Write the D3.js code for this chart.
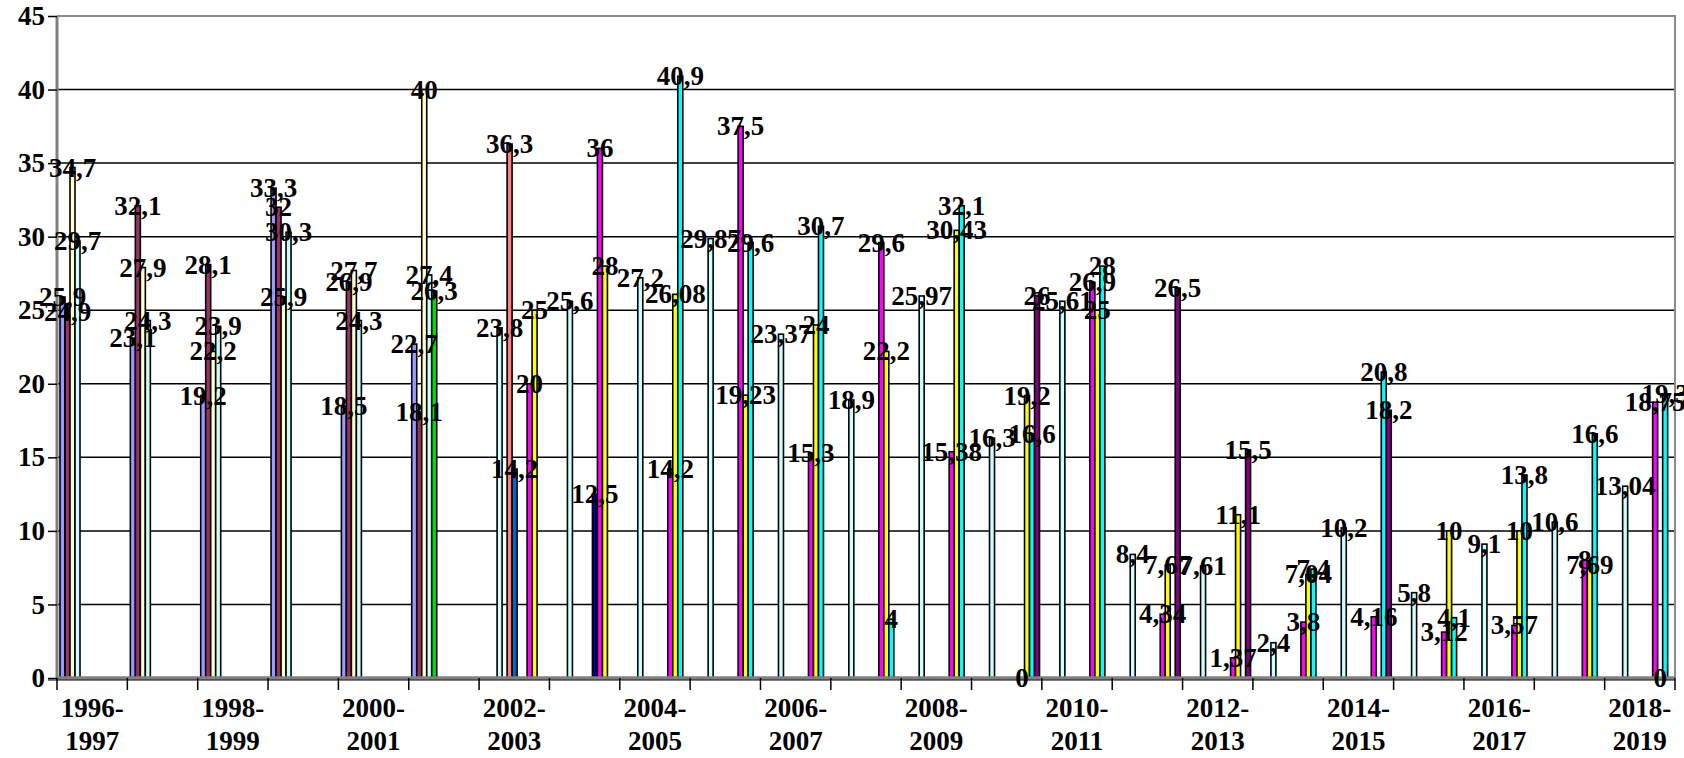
<!DOCTYPE html>
<html>
<head>
<meta charset="utf-8">
<script src="https://cdn.jsdelivr.net/npm/d3@7"></script>
<style>
  body { margin: 0; background: #fff; }
  svg text { font-family: "Liberation Serif", "Times New Roman", serif; font-weight: bold; }
</style>
</head>
<body>
<svg id="chart" width="1684" height="758"></svg>
<script>
var N = null;

var categories = ["1996-1997","1997-1998","1998-1999","1999-2000","2000-2001","2001-2002",
  "2002-2003","2003-2004","2004-2005","2005-2006","2006-2007","2007-2008","2008-2009",
  "2009-2010","2010-2011","2011-2012","2012-2013","2013-2014","2014-2015","2015-2016",
  "2016-2017","2017-2018","2018-2019"];

var yTicks = [0, 5, 10, 15, 20, 25, 30, 35, 40, 45];

// one array per series, null where the series has no bar
var lavender    = [25.9,23.1,19.2,33.3,18.5,22.7,N,N,N,N,N,N,N,N,N,N,N,N,N,N,N,N,N];
var maroon      = [24.9,32.1,28.1,32,26.9,18.1,N,N,N,N,N,N,N,N,N,N,N,N,N,N,N,N,N];
var lightYellow = [34.7,27.9,22.2,25.9,27.7,40,N,N,N,N,N,N,N,N,N,N,N,N,N,N,N,N,N];
var lightCyan   = [29.7,24.3,23.9,30.3,24.3,27.4,23.8,25.6,27.2,29.87,23.37,18.9,25.97,16.3,25.61,8.4,7.61,2.4,10.2,5.8,9.1,10.6,13.04];
var green       = [N,N,N,N,N,26.3,N,N,N,N,N,N,N,N,N,N,N,N,N,N,N,N,N];
var salmon      = [N,N,N,N,N,N,36.3,N,N,N,N,N,N,N,N,N,N,N,N,N,N,N,N];
var blue        = [N,N,N,N,N,N,14.2,N,N,N,N,N,N,N,N,N,N,N,N,N,N,N,N];
var navy        = [N,N,N,N,N,N,N,12.5,N,N,N,N,N,N,N,N,N,N,N,N,N,N,N];
var magenta     = [N,N,N,N,N,N,20,36,14.2,37.5,15.3,29.6,15.38,0,26.9,4.34,1.37,3.8,4.16,3.12,3.57,8,18.75];
var yellow      = [N,N,N,N,N,N,25,28,26.08,19.23,24,22.2,30.43,19.2,25,7.67,11.1,7.04,N,10,10,7.69,0];
var cyan        = [N,N,N,N,N,N,N,N,40.9,29.6,30.7,4,32.1,16.6,28,N,N,7.4,20.8,4.1,13.8,16.6,19.3];
var purple      = [N,N,N,N,N,N,N,N,N,N,N,N,N,26,N,26.5,15.5,N,18.2,N,N,N,N];

// slot = position of the series inside a category group
var series = [
  { values: lavender,    slot: 0,  color: "#9999FF" },
  { values: maroon,      slot: 1,  color: "#993366" },
  { values: lightYellow, slot: 2,  color: "#FFFFCC" },
  { values: lightCyan,   slot: 3,  color: "#CCFFFF" },
  { values: green,       slot: 4,  color: "#00DD00" },
  { values: salmon,      slot: 5,  color: "#FF8080" },
  { values: blue,        slot: 6,  color: "#0066CC" },
  { values: navy,        slot: 8,  color: "#000080" },
  { values: magenta,     slot: 9,  color: "#FF00FF" },
  { values: yellow,      slot: 10, color: "#FFFF00" },
  { values: cyan,        slot: 11, color: "#00FFFF" },
  { values: purple,      slot: 12, color: "#800080" }
];

var svg = d3.select("#chart");
var plotL = 57, plotR = 1675, plotT = 16, plotB = 678;
var fontSize = 27;

var x = d3.scaleBand().domain(categories).range([plotL, plotR]).padding(0);
var slot = d3.scaleBand().domain(d3.range(13)).range([3, 68]);
var y = d3.scaleLinear().domain([0, 45]).range([plotB, plotT]);

function fmt(v) { return String(v).replace(".", ","); }

// grid lines
svg.append("g").selectAll("line")
  .data(yTicks.filter(function(t) { return t > 0 && t < 45; }))
  .enter().append("line")
    .attr("x1", plotL).attr("x2", plotR)
    .attr("y1", function(d) { return y(d); })
    .attr("y2", function(d) { return y(d); })
    .attr("stroke", "#000").attr("stroke-width", 1.5);

// plot border (top and right)
svg.append("path")
  .attr("d", "M" + plotL + "," + y(45) + "H" + plotR + "V" + y(0))
  .attr("fill", "none").attr("stroke", "#8c8c8c").attr("stroke-width", 2);

// bars
var bars = [];
series.forEach(function(s) {
  s.values.forEach(function(v, i) {
    if (v !== null) bars.push({ cat: categories[i], value: v, slot: s.slot, color: s.color });
  });
});

svg.append("g").selectAll("rect")
  .data(bars)
  .enter().append("rect")
    .attr("x", function(d) { return x(d.cat) + slot(d.slot); })
    .attr("width", slot.bandwidth())
    .attr("y", function(d) { return y(d.value); })
    .attr("height", function(d) { return y(0) - y(d.value); })
    .attr("fill", function(d) { return d.color; })
    .attr("stroke", "#000").attr("stroke-width", 1.6);

// y axis
svg.append("line")
  .attr("x1", plotL).attr("x2", plotL).attr("y1", y(45)).attr("y2", y(0))
  .attr("stroke", "#808080").attr("stroke-width", 3);

var yAxis = svg.append("g")
  .attr("transform", "translate(" + plotL + ",0)")
  .call(d3.axisLeft(y).tickValues(yTicks).tickSize(9).tickPadding(3).tickSizeOuter(0));
yAxis.select(".domain").remove();
yAxis.selectAll(".tick line").attr("stroke", "#000").attr("stroke-width", 1.5);
yAxis.selectAll(".tick text")
  .attr("font-size", fontSize).attr("fill", "#000")
  .style("font-family", "'Liberation Serif', serif").style("font-weight", "bold");

// x axis baseline and ticks
svg.append("line")
  .attr("x1", plotL).attr("x2", plotR).attr("y1", y(0)).attr("y2", y(0))
  .attr("stroke", "#808080").attr("stroke-width", 3.5);
svg.append("line")
  .attr("x1", plotL - 9).attr("x2", plotR).attr("y1", y(0) + 2).attr("y2", y(0) + 2)
  .attr("stroke", "#000").attr("stroke-width", 1.2);

var bounds = categories.map(function(c) { return x(c); }).concat([plotR]);
svg.append("g").selectAll("line")
  .data(bounds)
  .enter().append("line")
    .attr("x1", function(d) { return d; }).attr("x2", function(d) { return d; })
    .attr("y1", y(0)).attr("y2", y(0) + 12)
    .attr("stroke", "#000").attr("stroke-width", 1.5);

// category labels, every other one
var xl = svg.append("g").selectAll("text")
  .data(categories.filter(function(c, i) { return i % 2 === 0; }))
  .enter().append("text")
    .attr("text-anchor", "middle")
    .attr("font-size", fontSize)
    .attr("x", function(d) { return x(d) + x.bandwidth() / 2; })
    .attr("y", 717);
xl.append("tspan").text(function(d) { return d.split("-")[0] + "-"; });
xl.append("tspan")
  .attr("x", function(d) { return x(d) + x.bandwidth() / 2; })
  .attr("dy", 33)
  .text(function(d) { return d.split("-")[1]; });

// data labels
svg.append("g").selectAll("text")
  .data(bars)
  .enter().append("text")
    .attr("text-anchor", "middle")
    .attr("dominant-baseline", "central")
    .attr("font-size", fontSize)
    .attr("x", function(d) { return x(d.cat) + slot(d.slot) + slot.bandwidth() / 2; })
    .attr("y", function(d) { return y(d.value); })
    .text(function(d) { return fmt(d.value); });
</script>
</body>
</html>
